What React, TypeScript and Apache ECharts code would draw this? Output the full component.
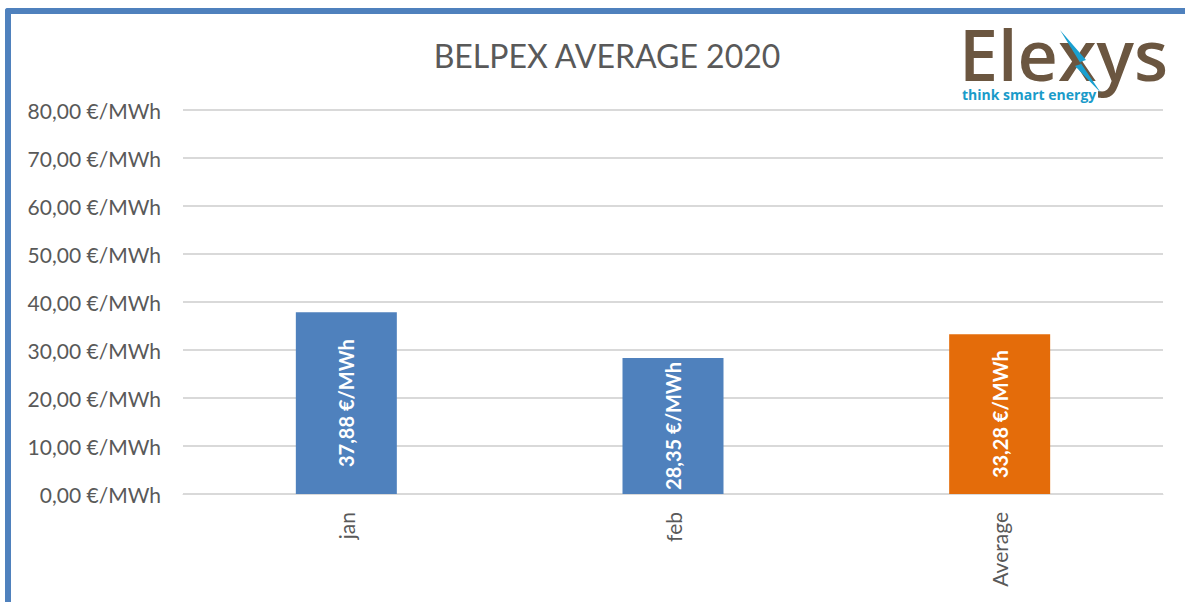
import React, { useEffect, useRef } from "react";
import * as echarts from "echarts";

const categories = ["jan", "feb", "Average"];
const values = [37.88, 28.35, 33.28];
const barColors = ["#4f81bd", "#4f81bd", "#e46c0a"];
const yTicks = { min: 0, max: 80, interval: 10 };
const titleText = "BELPEX AVERAGE 2020";

const fmt = (v: number) => v.toFixed(2).replace(".", ",") + " €/MWh";

export default function App() {
  const ref = useRef<HTMLDivElement>(null);
  useEffect(() => {
    if (!ref.current) return;
    const chart = echarts.init(ref.current, undefined, { renderer: "svg" });
    const font = "Lato, 'Open Sans', sans-serif";
    chart.setOption({
      animation: false,
      backgroundColor: "#ffffff",
      title: {
        text: titleText,
        left: 602,
        textAlign: "center",
        top: 34,
        textStyle: { fontFamily: font, fontSize: 32, fontWeight: "normal", color: "#595959" },
      },
      grid: { left: 183, right: 22, top: 110, bottom: 108 },
      xAxis: {
        type: "category",
        data: categories,
        axisLine: { lineStyle: { color: "#d9d9d9", width: 1 } },
        axisTick: { show: false },
        axisLabel: {
          rotate: 90,
          margin: 18,
          fontFamily: font,
          fontSize: 21,
          color: "#595959",
        },
      },
      yAxis: {
        type: "value",
        min: yTicks.min,
        max: yTicks.max,
        interval: yTicks.interval,
        axisLine: { show: false },
        axisTick: { show: false },
        splitLine: { lineStyle: { color: "#d9d9d9", width: 2 } },
        axisLabel: {
          margin: 22,
          fontFamily: font,
          fontSize: 21,
          color: "#595959",
          formatter: (v: number) => fmt(v),
        },
      },
      series: [
        {
          type: "bar",
          barWidth: 101,
          data: values.map((v, i) => ({ value: v, itemStyle: { color: barColors[i] } })),
          label: {
            show: true,
            position: "inside",
            rotate: 90,
            color: "#ffffff",
            fontFamily: font,
            fontWeight: "bold",
            fontSize: 20,
            formatter: (p: any) => fmt(p.value),
          },
        },
      ],
      graphic: [
        { type: "rect", shape: { x: 5, y: 8, width: 1185, height: 6, r: [3, 0, 0, 0] }, style: { fill: "#4f81bd" }, z: 100 },
        { type: "rect", shape: { x: 5, y: 8, width: 6, height: 600, r: [3, 0, 0, 0] }, style: { fill: "#4f81bd" }, z: 100 },
        {
          type: "text",
          x: 959,
          y: 26,
          style: {
            text: "Elexys",
            fontFamily: "'Open Sans', Lato, sans-serif",
            fontSize: 70,
            fontWeight: 600,
            lineHeight: 56,
            fill: "#6b5640",
          },
          z: 100,
        },
        {
          type: "polygon",
          shape: { points: [[1060, 30], [1086, 60], [1080, 62], [1101, 93], [1075, 66], [1081, 64]] },
          style: { fill: "#1aa0d0" },
          z: 101,
        },
        {
          type: "text",
          x: 962,
          y: 87,
          style: {
            text: "think smart energy",
            fontFamily: "'Open Sans', Lato, sans-serif",
            fontSize: 14,
            fontWeight: "bold",
            fill: "#1a9bc9",
          },
          z: 100,
        },
      ],
    });
    return () => chart.dispose();
  }, []);
  return (
    <div
      ref={ref}
      style={{ position: "fixed", left: 0, top: 0, width: 1185, height: 602 }}
    />
  );
}
